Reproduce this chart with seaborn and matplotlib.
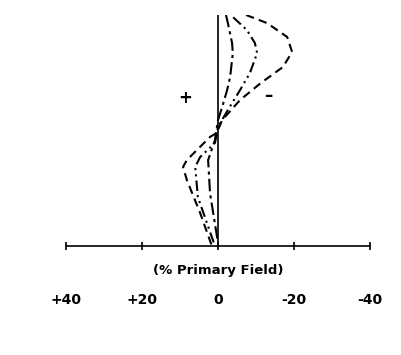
import matplotlib
matplotlib.use("Agg")
import matplotlib.pyplot as plt
import seaborn as sns
import pandas as pd

sns.set_style("white")
plt.rcParams['font.family'] = ['DejaVu Sans']
plt.rcParams['text.color'] = 'black'
plt.rcParams['xtick.color'] = 'black'
plt.rcParams['axes.edgecolor'] = 'black'

# depth fraction (1 = top, 0 = axis), value in % primary field
outer_y = [1.0, 0.965, 0.905, 0.84, 0.775, 0.706, 0.632, 0.545, 0.49, 0.472, 0.372, 0.342, 0.286, 0.143, 0.0]
outer_v = [-7.4, -12.9, -18.2, -19.5, -17.1, -11.3, -5.8, -1.1, 0.3, 2.1, 8.2, 9.2, 8.2, 4.7, 1.6]

middle_y = [0.99, 0.935, 0.879, 0.835, 0.749, 0.675, 0.589, 0.515, 0.446, 0.385, 0.342, 0.212, 0.0]
middle_v = [-4.0, -7.6, -9.7, -10.3, -8.4, -5.8, -2.6, 0.0, 0.8, 4.7, 6.0, 5.3, 0.8]

inner_y = [1.0, 0.965, 0.879, 0.835, 0.732, 0.675, 0.602, 0.545, 0.459, 0.372, 0.229, 0.013]
inner_v = [-2.1, -2.6, -3.7, -3.9, -3.2, -2.4, -1.1, 0.0, 0.8, 2.6, 2.1, 0.0]

ref_y = [0.0, 1.0]
ref_v = [0.0, 0.0]

tick_vals = [40, 20, 0, -20, -40]
tick_labels = ["+40", "+20", "0", "-20", "-40"]

fig = plt.figure(figsize=(4.01, 3.55), dpi=100)
ax = fig.add_axes([66/401, 109/355, (370-66)/401, (246-15)/355])

def draw(v, y, ls, lw=1.5):
    df = pd.DataFrame({"v": v, "y": y})
    sns.lineplot(data=df, x="v", y="y", orient="y", sort=False, estimator=None,
                 color="black", lw=lw, ax=ax, linestyle=ls)

draw(ref_v, ref_y, "-", lw=1.2)
draw(outer_v, outer_y, (0, (4, 2.5)))
draw(middle_v, middle_y, (0, (5, 2, 1, 2, 1, 2)))
draw(inner_v, inner_y, (0, (6, 2, 1.5, 2)))

ax.set_xlim(40, -40)
ax.set_ylim(0, 1)
for s in ["top", "right", "left"]:
    ax.spines[s].set_visible(False)
ax.spines["bottom"].set_linewidth(1.2)
ax.set_yticks([])
ax.set_xticks(tick_vals)
ax.set_xticklabels(tick_labels, fontsize=10, fontweight="bold", color="black")
ax.tick_params(axis="x", direction="inout", length=6, width=1.2, pad=31, bottom=True, colors="black")
ax.set_xlabel("")
ax.set_ylabel("")
ax.text(0, -0.105, "(% Primary Field)", transform=ax.get_xaxis_transform(),
        ha="center", va="center", fontsize=9.5, fontweight="bold", color="black")
ax.text(8.7, 0.64, "+", ha="center", va="center", fontsize=12, fontweight="bold", color="black")
ax.text(-13.2, 0.65, "\u2013", ha="center", va="center", fontsize=12, fontweight="bold", color="black")

fig.savefig("out.png", dpi=100)
